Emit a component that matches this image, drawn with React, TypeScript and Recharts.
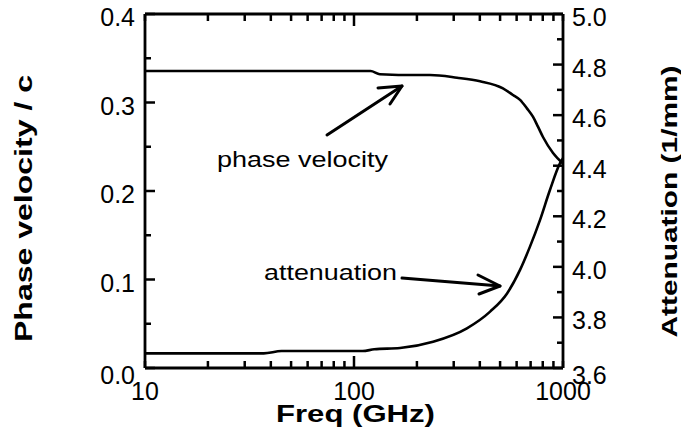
import React from "react";
import { LineChart, Line, XAxis, YAxis } from "recharts";

// values
const pvFreq = [10, 60, 120, 133, 200, 231, 311, 401, 516, 576, 623, 672, 718, 759, 802, 896, 1000];
const pvValue = [0.3356, 0.3356, 0.3356, 0.332, 0.331, 0.331, 0.328, 0.324, 0.316, 0.3085, 0.303, 0.2934, 0.284, 0.2727, 0.261, 0.243, 0.231];

const attFreq = [10, 37, 45, 110, 125, 166, 239, 347, 448, 540, 623, 695, 776, 866, 968, 1000];
const attValue = [3.658, 3.658, 3.667, 3.667, 3.674, 3.679, 3.704, 3.757, 3.823, 3.895, 3.988, 4.08, 4.185, 4.304, 4.41, 4.43];

const freqTicks = [10, 20, 30, 40, 50, 60, 70, 80, 90, 100, 200, 300, 400, 500, 600, 700, 800, 900, 1000];
const freqLabels = [10, 100, 1000];
const pvTicks = [0, 0.05, 0.1, 0.15, 0.2, 0.25, 0.3, 0.35, 0.4];
const pvLabels = ["0.0", "0.1", "0.2", "0.3", "0.4"];
const attTicks = [3.6, 3.7, 3.8, 3.9, 4.0, 4.1, 4.2, 4.3, 4.4, 4.5, 4.6, 4.7, 4.8, 4.9, 5.0];
const attLabels = ["3.6", "3.8", "4.0", "4.2", "4.4", "4.6", "4.8", "5.0"];

const pvData = pvFreq.map((f, i) => ({ f, pv: pvValue[i] }));
const attData = attFreq.map((f, i) => ({ f, att: attValue[i] }));

const FONT = "'Liberation Sans', Arial, Helvetica, sans-serif";
const INK = "#000";
const TICK_FONT = 25;

// inward ticks, longer one at 100
const renderBottomTick = (props: any) => {
  const x = Number(props.x);
  const y = Number(props.y);
  const v = props.payload.value;
  return (
    <g key={`b-${v}`}>
      <path d={`M${x},${y}V${y - (v === 100 ? 12 : 7)}`} stroke={INK} strokeWidth={2.5} fill="none" />
      {freqLabels.includes(v) && (
        <text x={x} y={y + 23} textAnchor="middle" dominantBaseline="central" fontSize={TICK_FONT} fontFamily={FONT} fill={INK} stroke="none">
          {v}
        </text>
      )}
    </g>
  );
};

const renderTopTick = (props: any) => {
  const x = Number(props.x);
  const y = Number(props.y);
  const v = props.payload.value;
  return (
    <g key={`t-${v}`}>
      <path d={`M${x},${y}V${y + (v === 100 ? 12 : 7)}`} stroke={INK} strokeWidth={2.5} fill="none" />
    </g>
  );
};

const renderLeftTick = (props: any) => {
  const x = Number(props.x);
  const y = Number(props.y);
  const v = props.payload.value;
  const label = v.toFixed(1);
  const major = Math.abs(v * 10 - Math.round(v * 10)) < 1e-6 && pvLabels.includes(label);
  return (
    <g key={`l-${v}`}>
      <path d={`M${x},${y}H${x + (major ? 10 : 6)}`} stroke={INK} strokeWidth={2.5} fill="none" />
      {major && (
        <text x={x - 10} y={y + (v === 0 ? 7 : 3)} textAnchor="end" dominantBaseline="central" fontSize={TICK_FONT} fontFamily={FONT} fill={INK} stroke="none">
          {label}
        </text>
      )}
    </g>
  );
};

const renderRightTick = (props: any) => {
  const x = Number(props.x);
  const y = Number(props.y);
  const v = props.payload.value;
  const label = v.toFixed(1);
  const major = attLabels.includes(label);
  return (
    <g key={`r-${v}`}>
      <path d={`M${x},${y}H${x - (major ? 10 : 6)}`} stroke={INK} strokeWidth={2.5} fill="none" />
      {major && (
        <text x={x + 9} y={y + (v === 3.6 ? 7 : 3)} textAnchor="start" dominantBaseline="central" fontSize={TICK_FONT} fontFamily={FONT} fill={INK} stroke="none">
          {label}
        </text>
      )}
    </g>
  );
};

export default function App() {
  return (
    <div style={{ position: "absolute", left: 0, top: 0, width: 681, height: 446, background: "#fff" }}>
      <LineChart width={681} height={446} margin={{ top: 10, right: 58, bottom: 48, left: 85 }}>
        <XAxis
          dataKey="f"
          type="number"
          scale="log"
          domain={[10, 1000]}
          ticks={freqTicks}
          interval={0}
          allowDataOverflow
          height={30}
          tickSize={0}
          tickMargin={0}
          tickLine={false}
          tick={renderBottomTick}
          axisLine={{ stroke: INK, strokeWidth: 2.8 }}
        />
        <XAxis
          xAxisId="top"
          orientation="top"
          dataKey="f"
          type="number"
          scale="log"
          domain={[10, 1000]}
          ticks={freqTicks}
          interval={0}
          allowDataOverflow
          height={4}
          tickSize={0}
          tickMargin={0}
          tickLine={false}
          tick={renderTopTick}
          axisLine={{ stroke: INK, strokeWidth: 2.8 }}
        />
        <YAxis
          yAxisId="pv"
          orientation="left"
          type="number"
          domain={[0, 0.4]}
          ticks={pvTicks}
          interval={0}
          width={60}
          tickSize={0}
          tickMargin={0}
          tickLine={false}
          tick={renderLeftTick}
          axisLine={{ stroke: INK, strokeWidth: 2.8 }}
        />
        <YAxis
          yAxisId="att"
          orientation="right"
          type="number"
          domain={[3.6, 5.0]}
          ticks={attTicks}
          interval={0}
          width={60}
          tickSize={0}
          tickMargin={0}
          tickLine={false}
          tick={renderRightTick}
          axisLine={{ stroke: INK, strokeWidth: 2.8 }}
        />
        <Line
          yAxisId="pv"
          data={pvData}
          dataKey="pv"
          type="monotone"
          stroke={INK}
          strokeWidth={2.6}
          dot={false}
          isAnimationActive={false}
        />
        <Line
          yAxisId="att"
          data={attData}
          dataKey="att"
          type="monotone"
          stroke={INK}
          strokeWidth={2.6}
          dot={false}
          isAnimationActive={false}
        />
      </LineChart>
      <svg
        width={681}
        height={446}
        style={{ position: "absolute", left: 0, top: 0, pointerEvents: "none" }}
        fontFamily={FONT}
        fill={INK}
      >
        <text x={276} y={422} fontSize={23} fontWeight="bold" textLength={159} lengthAdjust="spacingAndGlyphs">
          {"Freq  (GHz)"}
        </text>
        <text transform="translate(32,208.5) rotate(-90)" textAnchor="middle" fontSize={23} fontWeight="bold" textLength={267} lengthAdjust="spacingAndGlyphs">
          {"Phase velocity  /  c"}
        </text>
        <text transform="translate(677,201.5) rotate(-90)" textAnchor="middle" fontSize={22} fontWeight="bold" textLength={272} lengthAdjust="spacingAndGlyphs">
          {"Attenuation  (1/mm)"}
        </text>
        <text x={217} y={167} fontSize={22} textLength={171} lengthAdjust="spacingAndGlyphs">
          phase velocity
        </text>
        <text x={264} y={280} fontSize={22} textLength={133} lengthAdjust="spacingAndGlyphs">
          attenuation
        </text>
        <g stroke={INK} strokeWidth={3} fill="none" strokeLinecap="round" strokeLinejoin="round">
          <line x1={327} y1={135} x2={402} y2={86} />
          <polyline points="378,88 402,86 390,104" />
          <line x1={402} y1={278} x2={500} y2={286} />
          <polyline points="478,275 500,286 479,294" />
        </g>
      </svg>
    </div>
  );
}
